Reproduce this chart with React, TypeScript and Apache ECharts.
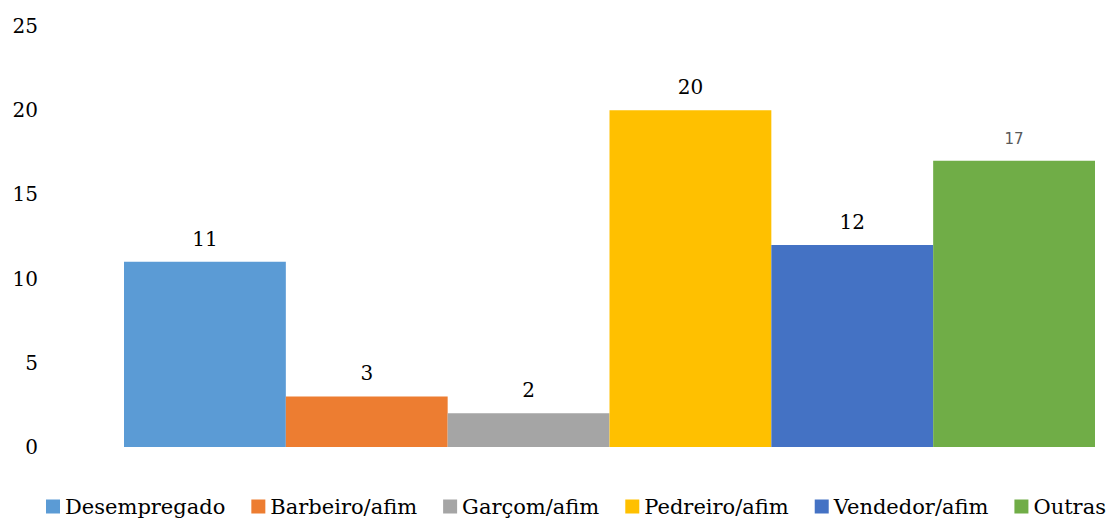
import React, { useEffect, useRef } from "react";
import * as echarts from "echarts";

const categories = ["Desempregado", "Barbeiro/afim", "Garçom/afim", "Pedreiro/afim", "Vendedor/afim", "Outras"];
const values = [11, 3, 2, 20, 12, 17];
const colors = ["#5B9BD5", "#ED7D31", "#A5A5A5", "#FFC000", "#4472C4", "#70AD47"];
const yTicks = [0, 5, 10, 15, 20, 25];

const SERIF = "DejaVu Serif";

export default function App() {
  const ref = useRef<HTMLDivElement>(null);
  useEffect(() => {
    if (!ref.current) return;
    const chart = echarts.init(ref.current, undefined, { renderer: "svg" });
    chart.setOption({
      animation: false,
      grid: { left: 124, right: 22, top: 26, bottom: 73 },
      legend: {
        top: 491,
        left: 41,
        itemWidth: 14,
        itemHeight: 14,
        itemGap: 26,
        icon: "rect",
        textStyle: { fontFamily: SERIF, fontSize: 21, color: "#000" },
        data: categories,
      },
      xAxis: {
        type: "category",
        data: [""],
        axisLine: { show: false },
        axisTick: { show: false },
        axisLabel: { show: false },
      },
      yAxis: {
        type: "value",
        min: yTicks[0],
        max: yTicks[yTicks.length - 1],
        interval: 5,
        splitLine: { show: false },
        axisLine: { show: false },
        axisTick: { show: false },
        axisLabel: { fontFamily: SERIF, fontSize: 20, color: "#000", margin: 86, align: "right" },
      },
      series: categories.map((name, i) => ({
        name,
        type: "bar",
        data: [values[i]],
        barGap: "0%",
        barCategoryGap: "0%",
        itemStyle: { color: colors[i] },
        label: {
          show: true,
          position: "top",
          distance: i === 5 ? 14 : 13,
          fontFamily: i === 5 ? "DejaVu Sans" : SERIF,
          fontSize: i === 5 ? 15 : 20,
          color: i === 5 ? "#595959" : "#000",
        },
      })),
    });
    return () => chart.dispose();
  }, []);
  return (
    <div
      ref={ref}
      style={{ position: "absolute", left: 0, top: 0, width: 1117, height: 520 }}
    />
  );
}
